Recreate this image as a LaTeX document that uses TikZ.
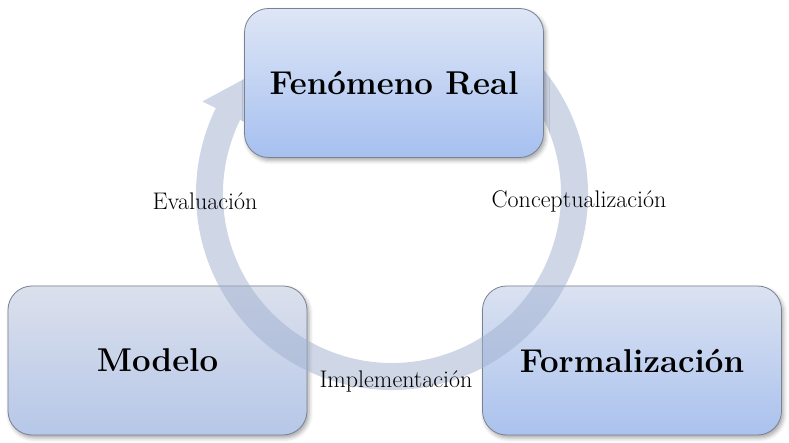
\documentclass[tikz,border=0pt]{standalone}
\usepackage{tikz}
\usetikzlibrary{calc, shadows.blur}
\definecolor{fentop}{RGB}{222,230,246}
\definecolor{fenbot}{RGB}{166,192,240}
\definecolor{modtop}{RGB}{219,224,236}
\definecolor{modbot}{RGB}{182,199,232}
\definecolor{fortop}{RGB}{219,226,241}
\definecolor{forbot}{RGB}{170,194,238}
\definecolor{boxline}{RGB}{120,130,145}
\definecolor{ringcol}{RGB}{160,176,208}

\begin{document}
\begin{tikzpicture}[x=1pt, y=1pt,
  cycbox/.style={draw=boxline, line width=0.8pt, rounded corners=24pt,
    minimum width=299pt, minimum height=149pt, inner sep=0pt,
    font=\fontsize{33}{40}\selectfont\bfseries,
    blur shadow={shadow xshift=2pt, shadow yshift=-3pt, shadow blur radius=4pt, shadow opacity=35}},
  steplabel/.style={font=\fontsize{24}{29}\selectfont, inner sep=0pt}]
  \useasboundingbox (0,0) rectangle (789,443);
  % lower boxes sit under the ring
  \node[cycbox, top color=modtop, bottom color=modbot] (modelo) at (157.5,82.5) {Modelo};
  \node[cycbox, top color=fortop, bottom color=forbot] (formal) at (632,82.5) {Formalización};
  % circular arrow
  \coordinate (c) at (392,249);
  \fill[ringcol, opacity=0.5] ($(c)+(60:196)$) arc[start angle=60, end angle=-206, radius=196]
    -- ($(c)+(-206:211)$) -- ($(c)+(-222:182)$) -- ($(c)+(-206:154)$)
    -- ($(c)+(-206:169)$) arc[start angle=-206, end angle=60, radius=169] -- cycle;
  \node[steplabel] (eval) at (205,242) {Evaluación};
  \node[steplabel] (concep) at (579,242) {Conceptualización};
  \node[steplabel] (impl) at (396,62) {Implementación};
  % top box covers the arrow head
  \node[cycbox, top color=fentop, bottom color=fenbot] (fenom) at (394,360) {Fenómeno Real};
\end{tikzpicture}
\end{document}
